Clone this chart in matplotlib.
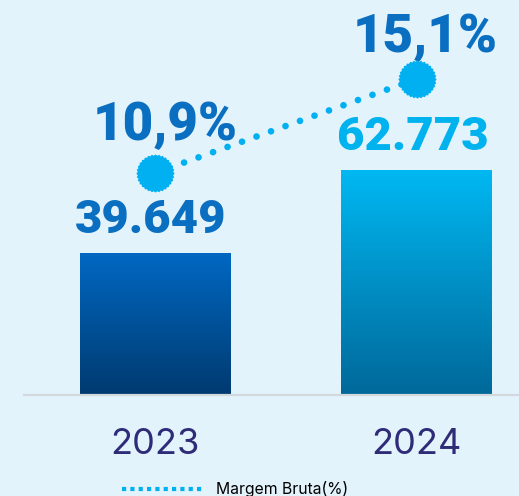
import numpy as np
import matplotlib
matplotlib.use("Agg")
import matplotlib.pyplot as plt
from matplotlib.lines import Line2D

years = ["2023", "2024"]
receita = [39649, 62773]
receita_labels = ["39.649", "62.773"]
margem = [10.9, 15.1]
margem_labels = ["10,9%", "15,1%"]

bg = "#E3F3FC"
bar_top = ["#0068C2", "#00B8F2"]
bar_bot = ["#003A70", "#00689A"]
value_colors = ["#0A6FC0", "#00B2EE"]

fig = plt.figure(figsize=(5.19, 4.96), dpi=100, facecolor=bg)
ax = fig.add_axes([0, 101 / 496, 1, 395 / 496])
ax.set_facecolor(bg)
ax.set_xlim(-0.593, 1.392)
ax.set_ylim(0, 110300)
for s in ax.spines.values():
    s.set_visible(False)
ax.set_yticks([])
ax.set_xticks([])

x = np.arange(len(years))
bars = ax.bar(x, receita, width=0.574, color="none", zorder=2)
for i, b in enumerate(bars):
    c1 = np.array(matplotlib.colors.to_rgb(bar_top[i]))
    c2 = np.array(matplotlib.colors.to_rgb(bar_bot[i]))
    t = np.linspace(0, 1, 256)[:, None]
    grad = (c1 * (1 - t) + c2 * t)[:, None, :]
    im = ax.imshow(grad, extent=[b.get_x(), b.get_x() + b.get_width(), 0, b.get_height()],
                   aspect="auto", zorder=2, interpolation="bilinear")
    im.set_clip_path(b)
    ax.annotate(receita_labels[i], (x[i], receita[i]), xytext=(-3, 14.7), textcoords="offset points",
                ha="center", va="baseline", fontsize=34, fontweight="black", family="Roboto",
                color=value_colors[i])

# baseline
ax.plot([24 / 519 * 1.985 - 0.593, 1.392], [0, 0], color="#D3D8DC", lw=1.6, zorder=3, clip_on=False)

for i, yr in enumerate(years):
    ax.text(x[i], -13700, yr, ha="center", va="center", fontsize=26, family="Inter",
            color="#2E2B78")

ax2 = ax.twinx()
ax2.set_ylim(0.98, 18.63)
ax2.axis("off")
ax2.plot(x, margem, color="#00B0F0", lw=4.8, linestyle=(0, (0.01, 2.3)),
         dash_capstyle="round", zorder=4)
ang = np.linspace(0, 2 * np.pi, 65)[:-1]
rad = np.where(np.arange(64) % 2 == 0, 1.0, 0.93)
scallop = np.column_stack([rad * np.cos(ang), rad * np.sin(ang)])
ax2.scatter(x, margem, marker=scallop, s=760, color="#00B0F0", zorder=5, linewidths=0)
pct_offsets = [(7.2, 23.8), (6.5, 19.4)]
for i in range(len(x)):
    ax2.annotate(margem_labels[i], (x[i], margem[i]), xytext=pct_offsets[i], textcoords="offset points",
                 ha="center", va="baseline", fontsize=38, fontweight="black", family="Roboto",
                 color="#0A6FC0")

handle = Line2D([], [], color="#00B0F0", lw=3, linestyle=(0, (1, 1)))
fig.legend([handle], ["Margem Bruta(%)"], loc="center", bbox_to_anchor=(0.453, 1 - 489 / 496),
           frameon=False, handlelength=5.2, handletextpad=0.8,
           prop={"family": "Inter", "size": 11.3})

fig.savefig("out.png", dpi=100, facecolor=bg)
